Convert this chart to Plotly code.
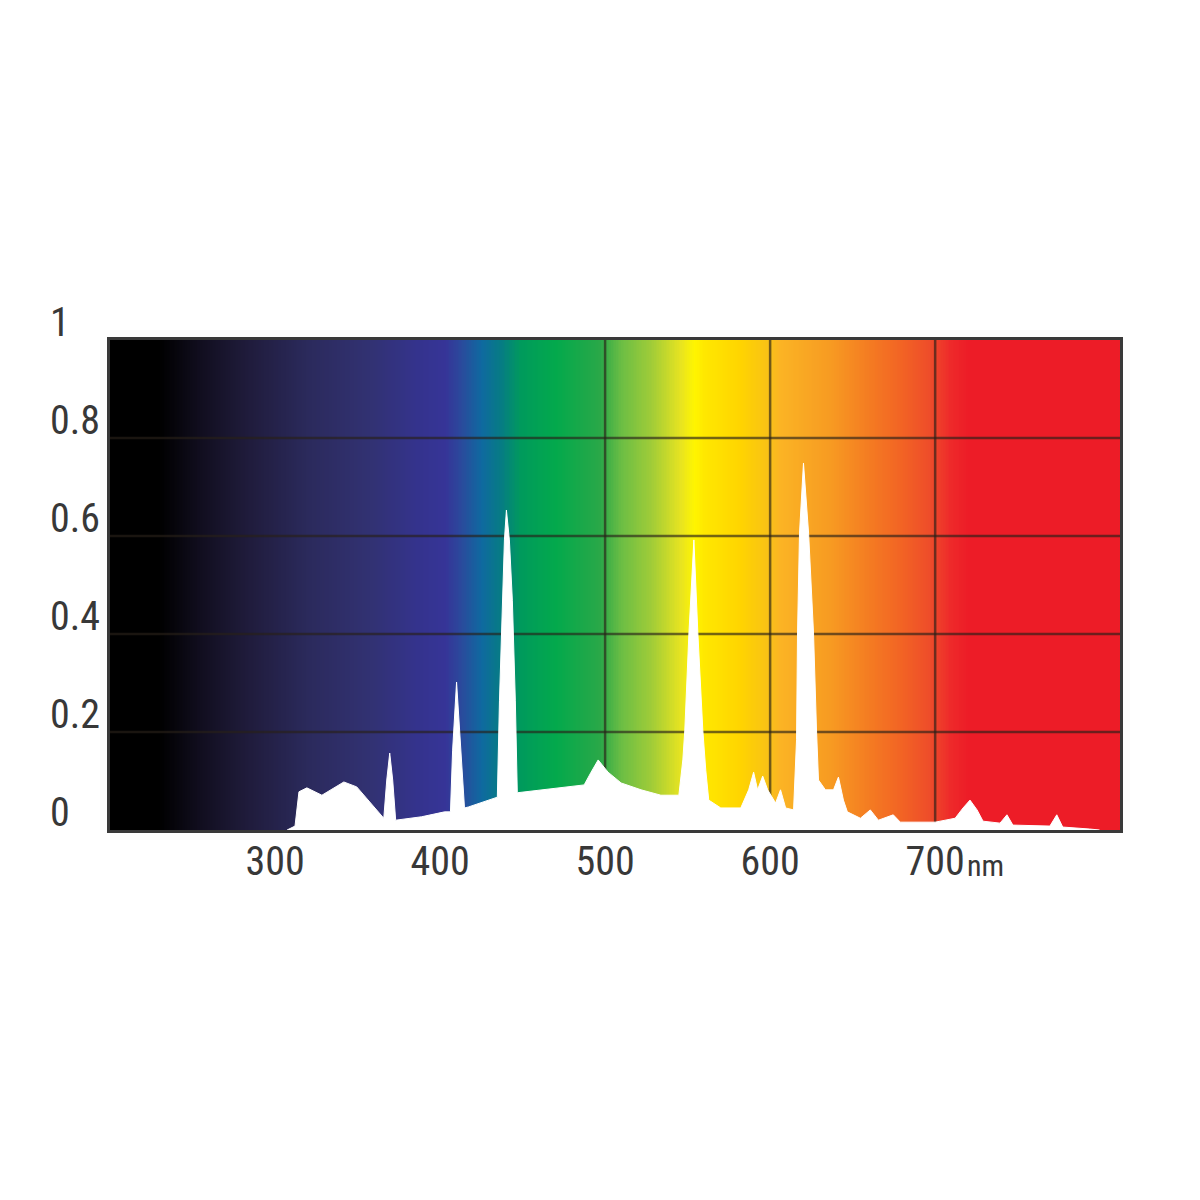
import numpy as np
import plotly.graph_objects as go

# emission spectrum (wavelength in nm, relative intensity)
wavelength = [
    307.3, 312.1, 314.5, 319.3, 328.4, 341.7, 349.5, 365.9, 367.7, 369.5,
    371.3, 373.1, 388.8, 402.7, 406.3, 407.6, 410.0, 412.4, 414.8, 417.2,
    434.7, 436.0, 437.8, 439.0, 440.2, 442.0, 443.8, 445.6, 446.8, 461.3,
    473.4, 487.3, 491.5, 495.8, 501.8, 509.7, 521.8, 533.8, 544.7, 547.1,
    548.3, 550.8, 553.8, 556.2, 559.2, 561.0, 562.8, 570.1, 582.2, 587.0,
    590.0, 592.4, 595.5, 598.5, 603.3, 606.3, 609.4, 614.2, 616.0, 616.6,
    617.8, 620.2, 623.3, 626.3, 628.1, 629.3, 633.5, 638.4, 641.4, 644.4,
    646.8, 654.7, 660.7, 665.6, 674.6, 678.9, 700.0, 712.1, 716.9, 721.1,
    725.4, 729.0, 739.3, 743.5, 747.1, 769.5, 773.7, 777.3, 793.6, 799.6,
]
intensity = [
    0.000, 0.008, 0.078, 0.086, 0.071, 0.098, 0.088, 0.024, 0.102, 0.157,
    0.102, 0.020, 0.027, 0.037, 0.037, 0.163, 0.302, 0.163, 0.045, 0.047,
    0.067, 0.265, 0.469, 0.592, 0.653, 0.592, 0.469, 0.265, 0.076, 0.082,
    0.086, 0.092, 0.118, 0.143, 0.118, 0.096, 0.082, 0.071, 0.071, 0.143,
    0.204, 0.402, 0.592, 0.402, 0.204, 0.122, 0.061, 0.045, 0.045, 0.082,
    0.118, 0.082, 0.110, 0.082, 0.055, 0.082, 0.045, 0.041, 0.184, 0.402,
    0.606, 0.749, 0.606, 0.402, 0.204, 0.102, 0.082, 0.082, 0.108, 0.061,
    0.037, 0.024, 0.041, 0.020, 0.031, 0.016, 0.016, 0.024, 0.045, 0.061,
    0.041, 0.018, 0.014, 0.031, 0.010, 0.008, 0.031, 0.006, 0.002, 0.000,
]

x_ticks = [300, 400, 500, 600, 700]
x_labels = ["300", "400", "500", "600", "700"]
y_ticks = [0, 0.2, 0.4, 0.6, 0.8, 1]
y_labels = ["0", "0.2", "0.4", "0.6", "0.8", "1"]
x_grid = [500, 600, 700]
y_grid = [0.2, 0.4, 0.6, 0.8]

x_min, x_max = 200, 812

# background rainbow (wavelength -> colour)
spectrum_stops = [
    (200, "#000000"), (230, "#000000"), (255, "#110e1f"), (280, "#1e1a38"),
    (320, "#2b2a5c"), (360, "#323274"), (385, "#34338c"), (403, "#363497"),
    (413, "#2a4a9c"), (425, "#0f69a0"), (437, "#067c84"), (449, "#009a5c"),
    (470, "#03a94c"), (497, "#2aa848"), (510, "#6cbe44"), (528, "#a0cc38"),
    (546, "#e8e420"), (554, "#fff500"), (560, "#ffe800"), (582, "#ffd400"),
    (600, "#f8c018"), (606, "#fbb424"), (637, "#f79a22"), (661, "#f47a22"),
    (679, "#f26424"), (697, "#ee4c2a"), (709, "#ee2a2a"), (720, "#ed1c27"),
    (812, "#ed1c27"),
]
colorscale = [[(w - x_min) / (x_max - x_min), c] for w, c in spectrum_stops]

bg_x = np.arange(x_min, x_max + 1)
font_family = "Liberation Sans Narrow, Roboto Condensed, Open Sans, sans-serif"
text_color = "#383838"

fig = go.Figure()
fig.add_trace(go.Heatmap(
    x=bg_x, y=[0, 1], z=[bg_x, bg_x],
    colorscale=colorscale, zmin=x_min, zmax=x_max,
    showscale=False, hoverinfo="skip",
))

# grid drawn over the rainbow but under the white spectrum
gx, gy = [], []
for v in y_grid:
    gx += [x_min, x_max, None]
    gy += [v, v, None]
for v in x_grid:
    gx += [v, v, None]
    gy += [0, 1, None]
fig.add_trace(go.Scatter(
    x=gx, y=gy, mode="lines",
    line=dict(color="rgba(40,33,25,0.65)", width=2.5),
    hoverinfo="skip", showlegend=False,
))

fig.add_trace(go.Scatter(
    x=wavelength, y=intensity, mode="lines",
    fill="tozeroy", fillcolor="#ffffff",
    line=dict(color="#ffffff", width=1),
    hoverinfo="skip", showlegend=False,
))

for v, t in zip(y_ticks, y_labels):
    fig.add_annotation(
        text=t, xref="paper", x=0, xshift=-62, xanchor="left",
        yref="y", y=v, yanchor="bottom", yshift=-8,
        showarrow=False, font=dict(size=40, color=text_color, family=font_family),
    )

fig.add_annotation(
    text="nm", xref="x", x=700, xshift=30, xanchor="left",
    yref="paper", y=0, yanchor="top", yshift=-16,
    showarrow=False, font=dict(size=30, color=text_color, family=font_family),
)

fig.update_layout(
    width=1200, height=1200,
    margin=dict(l=102, r=88, t=332, b=378),
    paper_bgcolor="#ffffff", plot_bgcolor="#ffffff",
    showlegend=False,
    xaxis=dict(
        range=[x_min, x_max], tickvals=x_ticks, ticktext=x_labels,
        showgrid=False, zeroline=False, ticks="", ticklabelstandoff=-6,
        showline=True, linecolor="#3a3a3a", linewidth=2.5, mirror=True,
        tickfont=dict(size=40, color=text_color, family=font_family),
    ),
    yaxis=dict(
        range=[0, 1], showticklabels=False,
        showgrid=False, zeroline=False, ticks="",
        showline=True, linecolor="#3a3a3a", linewidth=2.5, mirror=True,
    ),
)

fig.write_html("out.html")
